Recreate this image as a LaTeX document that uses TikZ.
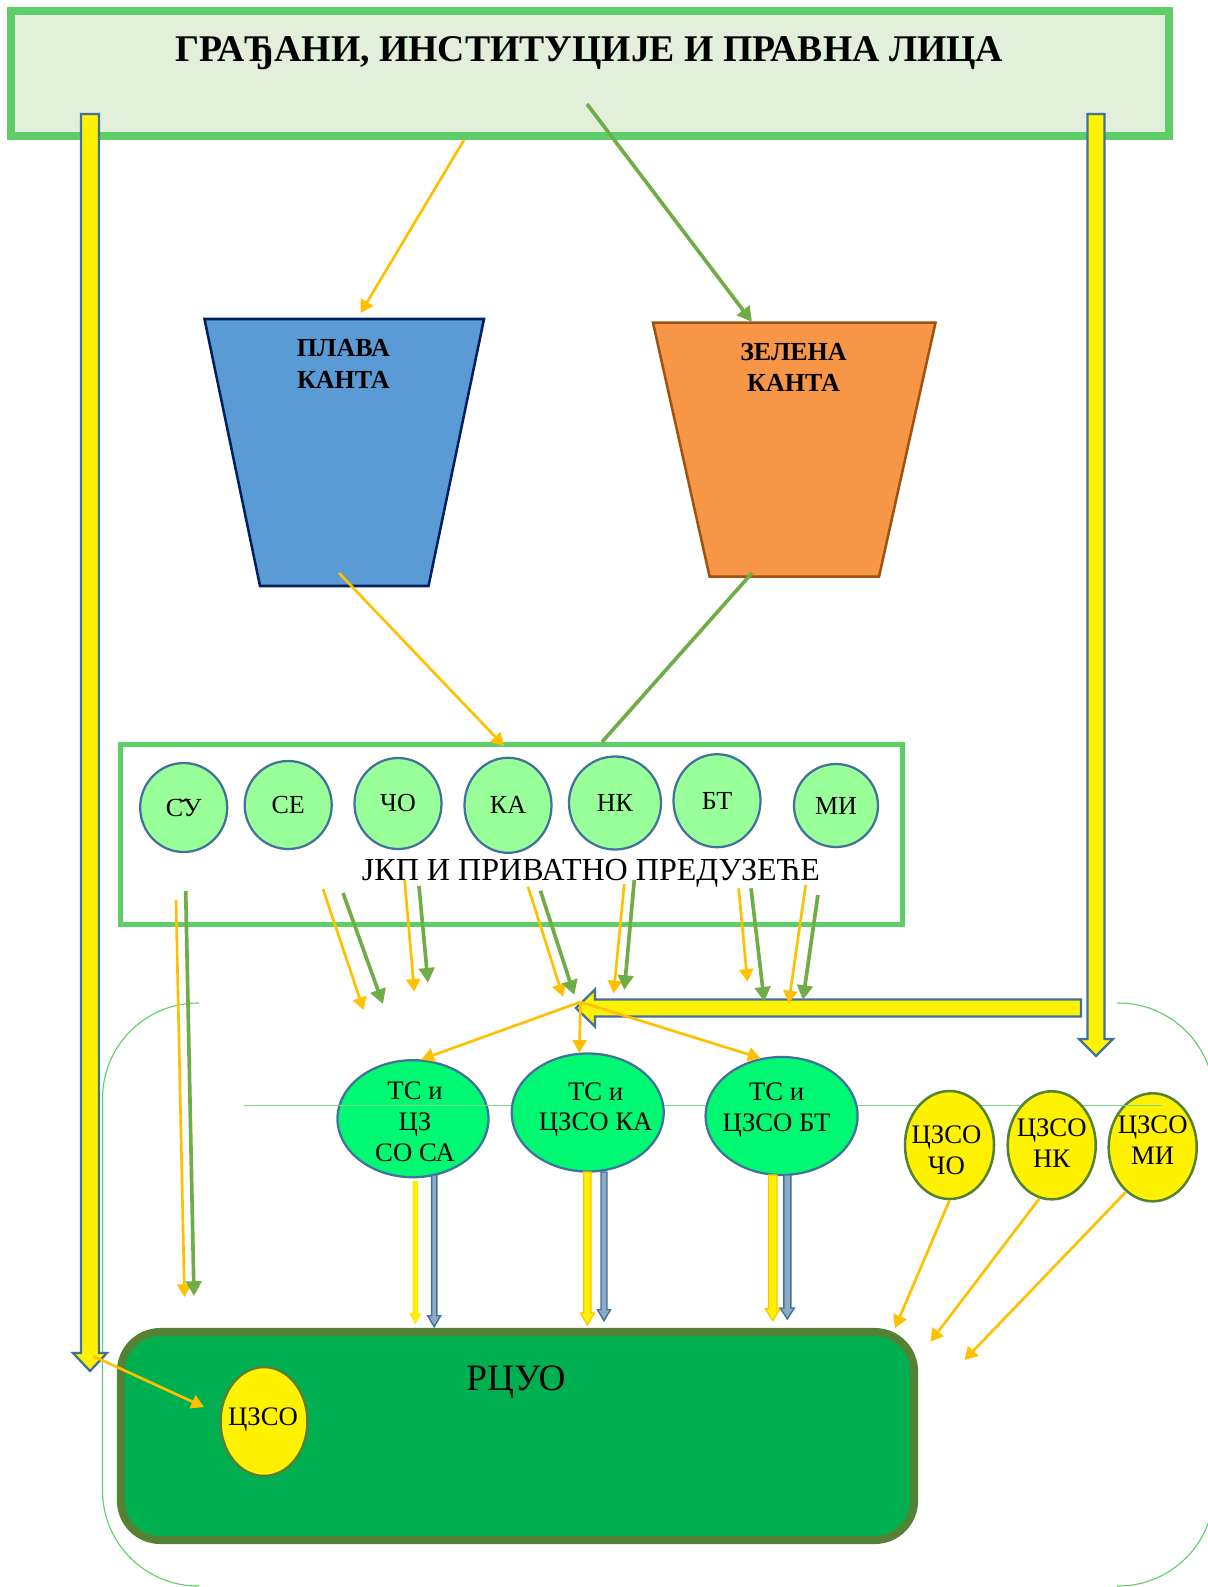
\documentclass[tikz,border=0pt]{standalone}
\usepackage{fontspec}
\setmainfont{Liberation Serif}
\usetikzlibrary{arrows.meta}
\usetikzlibrary{shapes.geometric}

\definecolor{boxgreen}{HTML}{5ECF68}
\definecolor{boxfill}{HTML}{E2EFDA}
\definecolor{arrorange}{HTML}{FFC000}
\definecolor{arrgreen}{HTML}{70AD47}
\definecolor{edgeblue}{HTML}{41719C}
\definecolor{bucketblue}{HTML}{5B9BD5}
\definecolor{bucketnavy}{HTML}{002060}
\definecolor{bucketorange}{HTML}{F79646}
\definecolor{bucketbrown}{HTML}{A0520F}
\definecolor{townfill}{HTML}{99FF99}
\definecolor{stationfill}{HTML}{00F872}
\definecolor{centrefill}{HTML}{00B050}
\definecolor{centreedge}{HTML}{548235}

% one pixel of the drawing as a length for node sizes
\newcommand{\pix}{0.7113pt}

\newcommand{\downblock}[7] % x, top, tip, half shaft, half head, head length, style
{
	\draw[#7] (#1-#4,#2) -- (#1+#4,#2) -- (#1+#4,#3-#6) -- (#1+#5,#3-#6)
		-- (#1,#3) -- (#1-#5,#3-#6) -- (#1-#4,#3-#6) -- cycle;
}

\newcommand{\drop}[6] % name, style, x1, y1, x2, y2
{
	\coordinate (#1-from) at (#3,#4);
	\coordinate (#1-to) at (#5,#6);
	\draw[#2] (#1-from) -- (#1-to);
}

\begin{document}
\begin{tikzpicture}[x=0.025cm, y=-0.025cm,
	orangearrow/.style={draw=arrorange, line width=1.9pt, -{Triangle[length=9pt,width=10pt]}},
	greenarrow/.style={draw=arrgreen, line width=2.6pt, -{Triangle[length=10.5pt,width=11pt]}},
	greenline/.style={draw=arrgreen, line width=2.6pt},
	bigarrow/.style={fill=yellow, draw=edgeblue, line width=1.6pt},
	thinyellow/.style={fill=yellow, draw=arrorange, line width=0.8pt},
	thinblue/.style={fill=edgeblue!60!white, draw=edgeblue, line width=1pt},
	bracketline/.style={draw=boxgreen, line width=0.8pt, rounded corners=68pt},
	town/.style={ellipse, draw=edgeblue, line width=1.6pt, fill=townfill, inner sep=0pt, font=\fontsize{18.5}{21}\selectfont},
	station/.style={ellipse, draw=edgeblue, line width=1.6pt, fill=stationfill, inner sep=0pt},
	yard/.style={ellipse, draw=centreedge, line width=1.8pt, fill=yellow, inner sep=0pt},
	stationtext/.style={align=center, font=\fontsize{19}{22}\selectfont},
	bucketlabel/.style={align=center, font=\bfseries\fontsize{18.5}{22.5}\selectfont}]
	\useasboundingbox (0,0) rectangle (1208,1587);

	% bracket pair round the lower part
	\draw[bracketline] (199,1003) -- (102.5,1003) -- (102.5,1586) -- (199,1586);
	\draw[bracketline] (1117,1003) -- (1214,1003) -- (1214,1586) -- (1117,1586);

	% citizens
	\node (citizens) [draw=boxgreen, line width=5.5pt, fill=boxfill, minimum width=1157*\pix, minimum height=125*\pix] at (590,73.5) {};
	\node (citizenstext) [anchor=base, font=\bfseries\fontsize{26.8}{30}\selectfont] at (589,61.7) {ГРАЂАНИ, ИНСТИТУЦИЈЕ И ПРАВНА ЛИЦА};

	% bins
	\draw[fill=bucketblue, draw=bucketnavy, line width=1.8pt] (204.5,319) -- (484,319) -- (428.5,586) -- (260,586) -- cycle;
	\node (plava) [bucketlabel] at (343.4,364) {ПЛАВА\\КАНТА};
	\draw[fill=bucketorange, draw=bucketbrown, line width=1.8pt] (653,322.7) -- (935.5,322.7) -- (879,576.7) -- (709.6,576.7) -- cycle;
	\node (zelena) [bucketlabel] at (793.5,367.5) {ЗЕЛЕНА\\КАНТА};

	% utility companies
	\node (jkp) [draw=boxgreen, line width=3.6pt, minimum width=781.5*\pix, minimum height=180*\pix] at (511.75,834.5) {};
	\node (su) [town, minimum width=87*\pix, minimum height=89*\pix] at (183.7,807.5) {С̆У};
	\node (se) [town, minimum width=87*\pix, minimum height=88*\pix] at (288.2,805) {СЕ};
	\node (co) [town, minimum width=87*\pix, minimum height=91*\pix] at (398,803.5) {ЧО};
	\node (ka) [town, minimum width=87*\pix, minimum height=95*\pix] at (508,805.3) {КА};
	\node (nk) [town, minimum width=92*\pix, minimum height=93*\pix] at (615,803) {НК};
	\node (bt) [town, minimum width=87*\pix, minimum height=93*\pix] at (717,800.7) {БТ};
	\node (mi) [town, minimum width=84*\pix, minimum height=83*\pix] at (836,805.5) {МИ};
	\node (jkptext) [anchor=base, font=\fontsize{22.8}{26}\selectfont] at (591,880) {ЈКП И ПРИВАТНО ПРЕДУЗЕЋЕ};

	% from citizens to bins and on
	\drop{toplava}{orangearrow}{464}{140}{360.6}{313}
	\drop{tozelena}{greenarrow}{587}{104}{752}{322}
	\drop{plavajkp}{orangearrow}{339}{573}{504}{746}
	\drop{zelenajkp}{greenline}{752}{573}{602}{742}

	% transfer stations and collection yards
	\node (tcsa) [station, minimum width=151*\pix, minimum height=117*\pix,
		label={[stationtext, xshift=2*\pix, yshift=-3*\pix]center:{ТС и\\ЦЗ\\СО СА}}] at (413,1118.7) {};
	\node (czmi) [yard, minimum width=88*\pix, minimum height=108*\pix,
		label={[stationtext, yshift=7*\pix]center:{ЦЗСО\\МИ}}] at (1152.7,1147.3) {};
	\draw[draw=boxgreen!80!white, line width=1pt] (244,1105.7) -- (1162,1105.7);
	\node (tcka) [station, minimum width=152*\pix, minimum height=118*\pix,
		label={[stationtext, xshift=8*\pix, yshift=3*\pix]center:{ТС и\\ЦЗСО КА}}] at (587.7,1112.5) {};
	\node (tcbt) [station, minimum width=152*\pix, minimum height=118*\pix,
		label={[stationtext, xshift=-5*\pix, yshift=6*\pix]center:{ТС и\\ЦЗСО БТ}}] at (781.6,1116) {};
	\node (czcho) [yard, minimum width=89*\pix, minimum height=108*\pix,
		label={[stationtext, xshift=-3*\pix, yshift=-5*\pix]center:{ЦЗСО\\ЧО}}] at (949.5,1145) {};
	\node (cznk) [yard, minimum width=88*\pix, minimum height=108*\pix,
		label={[stationtext, yshift=2*\pix]center:{ЦЗСО\\НК}}] at (1051.7,1145.3) {};

	% regional centre
	\node (rcuo) [draw=centreedge, fill=centrefill, line width=5.7pt, rounded corners=28pt, minimum width=793*\pix, minimum height=208*\pix] at (517.5,1436) {};
	\node (rcuotext) [anchor=base, font=\fontsize{26.5}{30}\selectfont] at (516,1390) {РЦУО};
	\node (czso) [yard, minimum width=87*\pix, minimum height=109*\pix,
		label={[stationtext, xshift=-1*\pix, yshift=2*\pix]center:{ЦЗСО}}] at (264,1421.5) {};

	% big block arrows
	\downblock{90}{114}{1371}{9}{17}{18}{bigarrow}
	\downblock{1096}{114}{1056}{8.5}{17}{17}{bigarrow}
	\draw[bigarrow] (1081,999.5) -- (1081,1016.5) -- (595,1016.5) -- (595,1026.5) -- (576,1008) -- (595,989.5) -- (595,999.5) -- cycle;

	% collected waste out of the companies
	\drop{su-o}{orangearrow}{176}{900}{184.5}{1297}
	\drop{su-g}{greenarrow}{185.7}{891}{194}{1296}
	\drop{se-o}{orangearrow}{323}{889}{363.6}{1010}
	\drop{se-g}{greenarrow}{343}{893}{383}{1004}
	\drop{co-o}{orangearrow}{404.6}{880}{414.3}{991.7}
	\drop{co-g}{greenarrow}{419}{886}{428}{982.7}
	\drop{ka-o}{orangearrow}{528}{886.7}{563}{996.7}
	\drop{ka-g}{greenarrow}{540.4}{890.7}{574.3}{995}
	\drop{nk-o}{orangearrow}{624.3}{884}{613.6}{993.3}
	\drop{nk-g}{greenarrow}{634.3}{880}{624.3}{990}
	\drop{bt-o}{orangearrow}{738.6}{888.3}{747.5}{981.7}
	\drop{bt-g}{greenarrow}{751}{888.3}{764.3}{1001.7}
	\drop{mi-o}{orangearrow}{805.7}{885}{788.6}{1003.3}
	\drop{mi-g}{greenarrow}{817.9}{895}{802.9}{1000}

	% to the transfer stations
	\coordinate (hub) at (580.5,1002);
	\draw[orangearrow] (hub) -- (tcsa.82);
	\draw[orangearrow] (hub) -- (tcka.98);
	\draw[orangearrow] (hub) -- (tcbt.110);

	% transfer stations to the centre
	\downblock{415.3}{1181.7}{1323}{2.2}{5}{9}{thinyellow, draw=yellow!80!arrorange}
	\downblock{434.2}{1175}{1326.7}{2.6}{6.5}{11}{thinblue}
	\downblock{587.4}{1172}{1325}{3.6}{7}{12}{thinyellow}
	\downblock{604}{1172}{1320.7}{3}{6.5}{11}{thinblue}
	\downblock{772.7}{1175}{1320.7}{4.3}{7.5}{12}{thinyellow}
	\downblock{787.3}{1175}{1319}{3.5}{7}{11}{thinblue}

	% yards to the centre
	\coordinate (rcuo-in1) at (895,1328);
	\coordinate (rcuo-in2) at (930.5,1341.7);
	\coordinate (rcuo-in3) at (964.5,1360);
	\draw[orangearrow] (czcho.south) -- (rcuo-in1);
	\draw[orangearrow] (cznk.257) -- (rcuo-in2);
	\draw[orangearrow] (czmi.239) -- (rcuo-in3);
	\drop{czsoin}{orangearrow}{93}{1356}{204}{1407}
\end{tikzpicture}
\end{document}
